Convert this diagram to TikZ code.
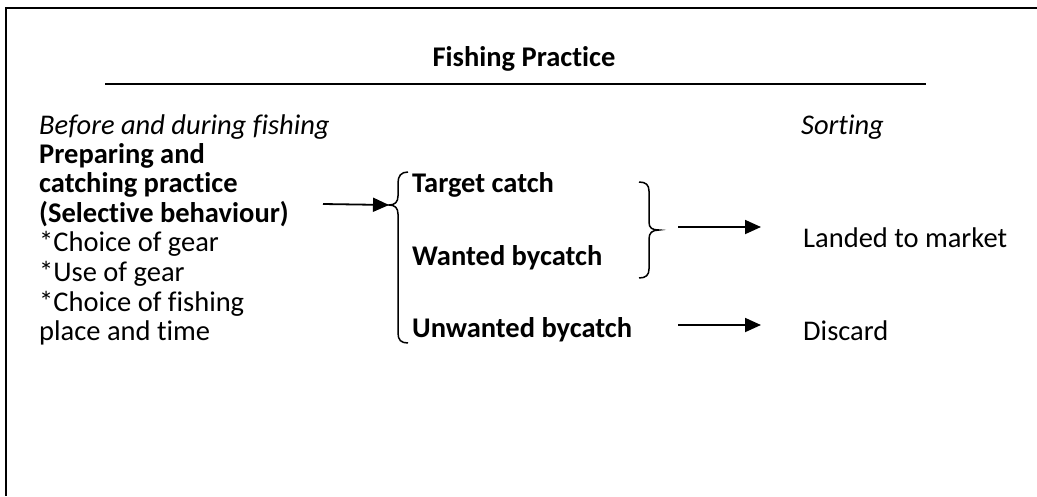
\documentclass[tikz,border=0pt]{standalone}
\usepackage{fontspec}
\setmainfont{Carlito}[Ligatures=NoCommon]
\usetikzlibrary{arrows.meta}
\tikzset{
  txt/.style={anchor=base west, inner sep=0pt, font=\fontsize{28.5}{29.4}\selectfont},
  btxt/.style={txt, font=\fontsize{28.5}{29.4}\selectfont\bfseries},
  itxt/.style={txt, font=\fontsize{28.5}{29.4}\selectfont\itshape},
  frame/.style={line width=2.2pt},
  brace/.style={line width=1.5pt},
  arr/.style={line width=1.8pt, -{Triangle[length=16pt,width=14pt]}}
}
\begin{document}
\begin{tikzpicture}[x=1pt,y=-1pt]
\useasboundingbox (0,0) rectangle (1037,496);
% frame
\coordinate (ftl) at (6,8);
\coordinate (ftr) at (1037,8);
\coordinate (fbl) at (6,496);
\draw[frame] (ftr) -- (ftl) -- (fbl);
% title
\node[btxt, anchor=base] (title) at (524,66) {Fishing Practice};
\coordinate (ul1) at (105,84);
\coordinate (ul2) at (926,84);
\draw[frame] (ul1) -- (ul2);
% headings
\node[itxt] (before) at (39,134) {Before and during fishing};
\node[itxt] (sorting) at (801,134) {Sorting};
% left block
\node[btxt] (p1) at (39,163) {Preparing and};
\node[btxt] (p2) at (39,192) {catching practice};
\node[btxt] (p3) at (39,222) {(Selective behaviour)};
\node[txt] (p4) at (39,251) {*Choice of gear};
\node[txt] (p5) at (39,281) {*Use of gear};
\node[txt] (p6) at (39,311) {*Choice of fishing};
\node[txt] (p7) at (39,340) {place and time};
% catch categories
\node[btxt] (target) at (412,192) {Target catch};
\node[btxt] (wanted) at (412,265) {Wanted bycatch};
\node[btxt] (unwanted) at (412,337) {Unwanted bycatch};
% outcomes
\node[txt] (landed) at (803,247) {Landed to market};
\node[txt] (discard) at (803,340) {Discard};
% left brace
\coordinate (lcusp) at (389,205);
\draw[brace] (408,172) .. controls (401,172) and (398,176) .. (398,183) -- (398,196)
  .. controls (398,202) and (395,205) .. (lcusp)
  .. controls (395,205) and (398,208) .. (398,214) -- (398,333)
  .. controls (398,340) and (401,343) .. (408,343);
% right brace
\coordinate (rcusp) at (659,230);
\draw[brace] (639,182) .. controls (646,182) and (649,185) .. (649,191) -- (649,222)
  .. controls (649,228) and (652,230) .. (rcusp)
  .. controls (652,230) and (649,233) .. (649,239) -- (649,269)
  .. controls (649,275) and (646,278) .. (639,278);
% arrows
\coordinate (a1s) at (323,204);
\draw[arr] (a1s) -- (lcusp);
\coordinate (a2s) at (678,227);
\coordinate (a2e) at (761,227);
\draw[arr] (a2s) -- (a2e);
\coordinate (a3s) at (678,325);
\coordinate (a3e) at (761,325);
\draw[arr] (a3s) -- (a3e);
\end{tikzpicture}
\end{document}
